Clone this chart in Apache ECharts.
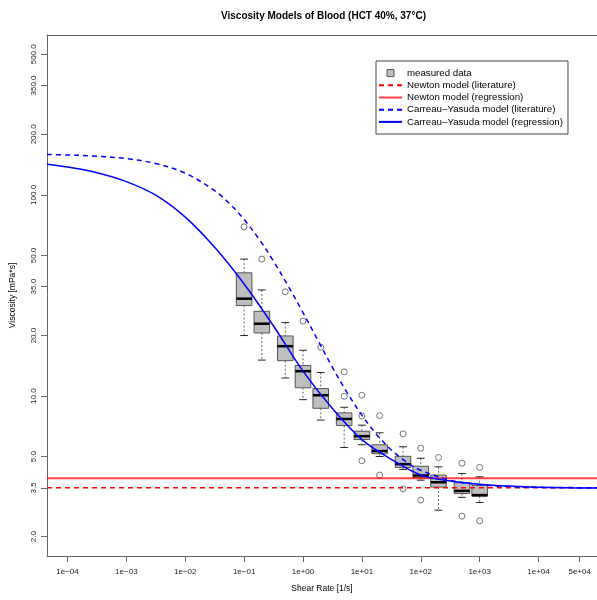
<!DOCTYPE html>
<html>
<head>
<meta charset="utf-8">
<title>Viscosity Models of Blood</title>
<script src="https://cdn.jsdelivr.net/npm/echarts@6/dist/echarts.min.js"></script>
<style>
  html, body { margin: 0; padding: 0; background: #fff; }
  #chart { width: 597px; height: 600px; }
</style>
</head>
<body>
<div id="chart"></div>
<script>
// measured data (boxplots per shear rate)
const shearRates = [0.1, 0.2, 0.5, 1, 2, 5, 10, 20, 50, 100, 200, 500, 1000]
const whiskerLow = [20.0, 15.1, 12.3, 9.6, 7.6, 5.55, 5.73, 5.01, 4.32, 3.82, 2.71, 3.14, 2.96]
const q1 = [28.2, 20.6, 15.0, 11.0, 8.7, 7.14, 6.08, 5.17, 4.42, 3.93, 3.53, 3.28, 3.18]
const median = [30.5, 22.9, 17.7, 13.3, 10.1, 7.7, 6.32, 5.33, 4.59, 4.03, 3.73, 3.38, 3.22]
const q3 = [41.0, 26.4, 19.9, 14.2, 10.9, 8.25, 6.69, 5.73, 5.02, 4.48, 4.05, 3.71, 3.60]
const whiskerHigh = [48.0, 33.7, 23.2, 16.9, 13.1, 8.8, 7.17, 6.57, 5.60, 4.91, 4.45, 4.12, 3.97]
const outliers = [
  [0.1, 69.4], [0.2, 48.0], [0.5, 33.0], [1, 23.6], [2, 17.5],
  [5, 13.2], [5, 9.98], [10, 10.1], [10, 7.97], [10, 4.77],
  [20, 8.0], [20, 4.05], [50, 6.49], [50, 3.46], [100, 5.51], [100, 3.04],
  [200, 4.95], [500, 4.64], [500, 2.53], [1000, 4.42], [1000, 2.40]
]

// model curves
const newtonLiterature = 3.5
const newtonRegression = 3.9
const litRates = [4.49e-5, 1e-4, 3.16e-4, 1e-3, 3.16e-3, 0.01, 0.0316, 0.0562, 0.1, 0.178, 0.316, 0.562, 1, 1.78, 3.16, 5.62, 10, 17.8, 31.6, 56.2, 100, 316, 1000, 3160, 1e4, 3.16e4, 1.114e5]
const litViscosity = [158.8, 158.0, 155.8, 151.5, 143.2, 128.3, 105.0, 90.7, 75.5, 60.5, 46.8, 35.2, 26.0, 19.0, 13.9, 10.4, 8.04, 6.45, 5.40, 4.72, 4.28, 3.82, 3.63, 3.55, 3.52, 3.51, 3.50]
const regRates = [4.49e-5, 1e-4, 3.16e-4, 1e-3, 3.16e-3, 0.01, 0.0316, 0.1, 0.316, 1, 3.16, 10, 31.6, 100, 316, 1000, 3160, 1e4, 3.16e4, 1.114e5]
const regViscosity = [142, 137.5, 129, 116.5, 99.7, 77.6, 54.9, 36.1, 22.3, 13.3, 8.67, 6.08, 4.85, 4.05, 3.78, 3.65, 3.57, 3.52, 3.50, 3.49]

// axes (the plot box runs past the right edge of the picture)
const xRange = [4.49e-5, 9.84e4]
const yRange = [1.604, 623.6]
const xTicks = [1e-4, 1e-3, 1e-2, 1e-1, 1, 10, 100, 1000, 1e4, 5e4]
const xTickLabels = ['1e\u221204', '1e\u221203', '1e\u221202', '1e\u221201', '1e+00', '1e+01', '1e+02', '1e+03', '1e+04', '5e+04']
const yTicks = [2, 3.5, 5, 10, 20, 35, 50, 100, 200, 350, 500]
const yTickLabels = ['2.0', '3.5', '5.0', '10.0', '20.0', '35.0', '50.0', '100.0', '200.0', '350.0', '500.0']

const FONT = '"Liberation Sans", Arial, Helvetica, sans-serif'
const RED = '#ff0000'
const BLUE = '#0000ff'
const FRAME = '#666'

const pickLabel = (ticks, labels) => v => {
  const i = ticks.findIndex(t => Math.abs(Math.log10(t) - Math.log10(v)) < 1e-6)
  return i < 0 ? '' : labels[i]
}

const renderBox = (params, api) => {
  const x = api.value(0)
  const low = api.coord([x, api.value(1)])
  const lower = api.coord([x, api.value(2)])
  const mid = api.coord([x, api.value(3)])
  const upper = api.coord([x, api.value(4)])
  const high = api.coord([x, api.value(5)])
  const cx = mid[0]
  const hw = 7.8
  const cw = 3.9
  const whisker = { stroke: '#666', lineWidth: 1, lineDash: [2, 2] }
  const cap = { stroke: '#222', lineWidth: 1 }
  return {
    type: 'group',
    children: [
      { type: 'line', shape: { x1: cx, y1: high[1], x2: cx, y2: upper[1] }, style: whisker },
      { type: 'line', shape: { x1: cx, y1: lower[1], x2: cx, y2: low[1] }, style: whisker },
      { type: 'line', shape: { x1: cx - cw, y1: high[1], x2: cx + cw, y2: high[1] }, style: cap },
      { type: 'line', shape: { x1: cx - cw, y1: low[1], x2: cx + cw, y2: low[1] }, style: cap },
      {
        type: 'rect',
        shape: { x: cx - hw, y: upper[1], width: hw * 2, height: lower[1] - upper[1] },
        style: { fill: '#bebebe', stroke: '#555', lineWidth: 1 }
      },
      { type: 'line', shape: { x1: cx - hw, y1: mid[1], x2: cx + hw, y2: mid[1] }, style: { stroke: '#000', lineWidth: 2.5 } }
    ]
  }
}

const lineLegend = name => ({ name, itemStyle: { opacity: 0 } })

const chart = echarts.init(document.getElementById('chart'))

const option = {
  animation: false,
  textStyle: { fontFamily: FONT },
  title: {
    text: 'Viscosity Models of Blood (HCT 40%, 37\u00b0C)',
    left: 323.5,
    top: 11,
    textAlign: 'center',
    padding: 0,
    textStyle: { fontFamily: FONT, fontSize: 10, fontWeight: 'bold', color: '#000' }
  },
  grid: {
    left: 47,
    top: 35,
    right: 0,
    height: 521,
    show: false
  },
  legend: {
    orient: 'vertical',
    left: 376,
    top: 61,
    padding: [6, 5, 6, 2],
    itemWidth: 23,
    itemHeight: 7,
    itemGap: 0,
    borderColor: '#444',
    borderWidth: 1,
    backgroundColor: '#fff',
    textStyle: { fontFamily: FONT, fontSize: 9.7, color: '#000', lineHeight: 12.2 },
    data: [
      {
        name: 'measured data',
        icon: 'path://M0,0H10V10H0Z',
        itemStyle: { color: '#bebebe', borderColor: '#555', borderWidth: 1 }
      },
      lineLegend('Newton model (literature)'),
      lineLegend('Newton model (regression)'),
      lineLegend('Carreau\u2013Yasuda model (literature)'),
      lineLegend('Carreau\u2013Yasuda model (regression)')
    ]
  },
  xAxis: [
    {
      type: 'log',
      logBase: 10,
      min: xRange[0],
      max: xRange[1],
      name: 'Shear Rate [1/s]',
      nameLocation: 'middle',
      nameGap: 28,
      nameTextStyle: { fontFamily: FONT, fontSize: 8.5, color: '#000' },
      axisLine: { show: true, lineStyle: { color: FRAME } },
      axisTick: { show: true, length: 6, lineStyle: { color: FRAME }, customValues: xTicks },
      axisLabel: {
        customValues: xTicks,
        formatter: pickLabel(xTicks, xTickLabels),
        fontFamily: FONT,
        fontSize: 8,
        color: '#222',
        margin: 12
      },
      splitLine: { show: false }
    },
    {
      // top edge of the plot box
      type: 'log',
      logBase: 10,
      position: 'top',
      min: xRange[0],
      max: xRange[1],
      axisLine: { show: true, onZero: false, lineStyle: { color: FRAME } },
      axisTick: { show: false },
      axisLabel: { show: false },
      splitLine: { show: false }
    }
  ],
  yAxis: {
    type: 'log',
    logBase: 10,
    min: yRange[0],
    max: yRange[1],
    name: 'Viscosity [mPa*s]',
    nameLocation: 'middle',
    nameGap: 30,
    nameTextStyle: { fontFamily: FONT, fontSize: 8.5, color: '#000' },
    axisLine: { show: true, lineStyle: { color: FRAME } },
    axisTick: { show: true, length: 6, lineStyle: { color: FRAME }, customValues: yTicks },
    axisLabel: {
      customValues: yTicks,
      formatter: pickLabel(yTicks, yTickLabels),
      rotate: 90,
      fontFamily: FONT,
      fontSize: 8,
      color: '#222',
      margin: 9
    },
    splitLine: { show: false }
  },
  series: [
    {
      name: 'measured data',
      type: 'custom',
      renderItem: renderBox,
      encode: { x: 0, y: [1, 2, 3, 4, 5] },
      itemStyle: { color: '#bebebe', borderColor: '#555', borderWidth: 1 },
      z: 1,
      data: shearRates.map((x, i) => [x, whiskerLow[i], q1[i], median[i], q3[i], whiskerHigh[i]])
    },
    {
      name: 'outliers',
      type: 'scatter',
      symbol: 'circle',
      symbolSize: 6,
      itemStyle: { color: 'rgba(0,0,0,0)', borderColor: '#555', borderWidth: 1 },
      z: 1,
      data: outliers
    },
    {
      name: 'Newton model (literature)',
      type: 'line',
      symbol: 'none',
      lineStyle: { color: RED, width: 1.5, type: [5, 4] },
      itemStyle: { color: RED },
      z: 3,
      data: [[xRange[0], newtonLiterature], [xRange[1], newtonLiterature]]
    },
    {
      name: 'Newton model (regression)',
      type: 'line',
      symbol: 'none',
      lineStyle: { color: RED, width: 2, opacity: 0.75 },
      itemStyle: { color: RED },
      z: 3,
      data: [[xRange[0], newtonRegression], [xRange[1], newtonRegression]]
    },
    {
      name: 'Carreau\u2013Yasuda model (literature)',
      type: 'line',
      symbol: 'none',
      smooth: 0.35,
      lineStyle: { color: BLUE, width: 1.5, type: [5, 4] },
      itemStyle: { color: BLUE },
      z: 4,
      data: litRates.map((x, i) => [x, litViscosity[i]])
    },
    {
      name: 'Carreau\u2013Yasuda model (regression)',
      type: 'line',
      symbol: 'none',
      smooth: 0.35,
      lineStyle: { color: BLUE, width: 1.5 },
      itemStyle: { color: BLUE },
      z: 4,
      data: regRates.map((x, i) => [x, regViscosity[i]])
    }
  ]
}

chart.setOption(option)
</script>
</body>
</html>
